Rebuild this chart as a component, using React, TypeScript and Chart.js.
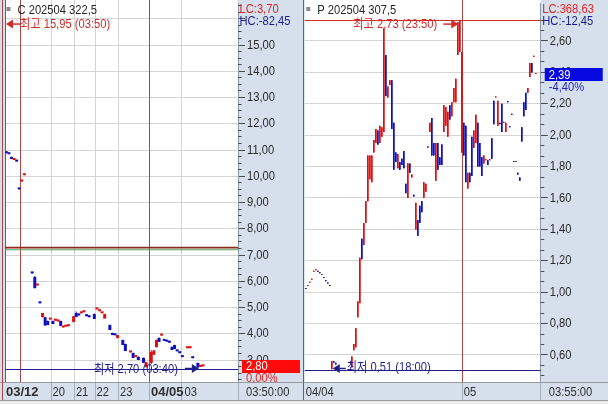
import React, { useEffect, useRef } from "react";
import { Chart, registerables } from "chart.js";

Chart.register(...registerables);

const BASE = "'Liberation Sans', 'Noto Sans CJK KR', sans-serif";
const SX = 0.86;
const AXIS_BG = "#d5e0ec";
const GRID = "#d4d4d4";
const UP = "#e01010";
const DOWN = "#1010c0";
const DAYLINE = "#a84848";
const HI_COLOR = "#d42a2a";
const LO_COLOR = "#1e1e8c";

// ---------------- Left panel (call) ----------------
const leftTitle = "C 202504 322,5";
const leftSlotCount = 90;
const leftSlots = [0, 1, 2, 3, 4, 5, 6, 7, 10, 11, 12, 13, 14, 15, 16, 17, 18, 19, 20, 21, 22, 23, 24, 26, 27, 28, 29, 30, 31, 32, 34, 35, 36, 37, 38, 40, 41, 42, 43, 45, 46, 48, 49, 50, 51, 53, 54, 56, 57, 58, 59, 60, 61, 62, 63, 64, 65, 66, 67, 68, 70, 71, 72, 74, 75, 76];
const leftOpen = [10.9, 10.86, 10.73, 10.62, 10.58, 9.52, 9.8, 10.04, 6.32, 6.16, 5.84, 5.18, 4.64, 4.63, 4.49, 4.54, 4.49, 4.5, 4.47, 4.49, 4.24, 4.27, 4.29, 4.45, 4.79, 4.72, 4.78, 4.82, 4.69, 4.65, 4.75, 4.93, 4.86, 4.78, 4.58, 4.33, 4.03, 3.96, 3.84, 3.76, 3.61, 3.29, 3.27, 3.11, 3.12, 3.08, 2.73, 2.89, 3.2, 3.49, 3.84, 3.93, 3.75, 3.72, 3.68, 3.5, 3.57, 3.35, 3.28, 3.13, 3.45, 3.45, 3.09, 2.89, 2.74, 2.76];
const leftHigh = [10.91, 10.86, 10.74, 10.64, 10.58, 9.53, 9.83, 10.06, 6.32, 6.2, 5.87, 5.18, 4.79, 4.65, 4.5, 4.57, 4.5, 4.53, 4.5, 4.5, 4.27, 4.29, 4.31, 4.67, 4.85, 4.72, 4.8, 4.84, 4.69, 4.65, 4.77, 4.95, 4.88, 4.8, 4.76, 4.35, 4.04, 3.96, 3.96, 3.78, 3.62, 3.31, 3.28, 3.13, 3.13, 3.1, 2.92, 3.38, 3.38, 3.78, 3.86, 3.95, 3.75, 3.72, 3.68, 3.51, 3.58, 3.35, 3.28, 3.13, 3.47, 3.47, 3.09, 2.9, 2.8, 2.8];
const leftLow = [10.88, 10.84, 10.66, 10.62, 10.56, 9.5, 9.8, 10.04, 6.3, 5.72, 5.84, 5.16, 4.62, 4.3, 4.33, 4.54, 4.37, 4.5, 4.47, 4.3, 4.24, 4.27, 4.29, 4.43, 4.64, 4.7, 4.78, 4.82, 4.67, 4.63, 4.56, 4.93, 4.86, 4.78, 4.58, 4.14, 3.95, 3.94, 3.82, 3.57, 3.34, 3.29, 3.08, 3.11, 3.0, 2.89, 2.71, 2.85, 3.19, 3.48, 3.69, 3.93, 3.73, 3.7, 3.66, 3.38, 3.42, 3.33, 3.26, 3.11, 3.45, 3.45, 3.07, 2.7, 2.73, 2.75];
const leftClose = [10.88, 10.84, 10.66, 10.64, 10.56, 9.5, 9.83, 10.06, 6.3, 5.74, 5.87, 5.16, 4.79, 4.32, 4.33, 4.57, 4.37, 4.53, 4.5, 4.3, 4.27, 4.29, 4.31, 4.67, 4.64, 4.7, 4.8, 4.84, 4.67, 4.63, 4.56, 4.95, 4.88, 4.8, 4.75, 4.14, 3.95, 3.94, 3.95, 3.57, 3.34, 3.31, 3.08, 3.13, 3.0, 2.89, 2.92, 3.3, 3.36, 3.76, 3.69, 3.95, 3.73, 3.7, 3.66, 3.38, 3.42, 3.33, 3.26, 3.11, 3.47, 3.47, 3.07, 2.72, 2.8, 2.8];
const leftYTicks = [3, 4, 5, 6, 7, 8, 9, 10, 11, 12, 13, 14, 15, 16];
const leftYUnlabeled = [16];
const leftXTickSlots = [0, 18, 27, 35, 44, 56, 68];
const leftXTickLabels = ["03/12", "20", "21", "22", "23", "04/05", "03"];
const leftXTickBold = [true, false, false, false, false, true, false];
const leftGridSlots = [18, 27, 35, 44, 68];
const leftDaySlots = [0, 6, 56];
const leftRefValues = [7.28, 7.2];
const leftRefColors = ["#8c2a1e", "#58a058"];
const leftMaxValue = 15.95;
const leftMaxText = "최고 15,95 (03:50)";
const leftMinValue = 2.7;
const leftMinText = "최저 2,70 (03:40)";
const leftMinSlot = 74;
const leftLC = "LC:3,70";
const leftHC = "HC:-82,45";
const leftLast = 2.8;
const leftLastText = "2,80";
const leftChangeText = "0,00%";
const leftTimeText = "03:50:00";

// ---------------- Right panel (put) ----------------
const rightTitle = "P 202504 307,5";
const rightSlotCount = 118;
const rightSlots = [0, 1, 2, 3, 4, 5, 6, 7, 8, 9, 10, 11, 12, 13, 14, 15, 23, 24, 25, 26, 27, 28, 29, 30, 31, 32, 33, 34, 35, 36, 37, 38, 39, 40, 41, 42, 43, 44, 45, 46, 47, 48, 49, 50, 51, 52, 53, 54, 55, 56, 57, 58, 59, 60, 61, 62, 63, 64, 65, 66, 67, 68, 69, 70, 71, 72, 73, 74, 75, 76, 77, 78, 79, 80, 81, 82, 83, 84, 85, 86, 87, 88, 89, 90, 91, 92, 93, 94, 95, 96, 97, 98, 99, 100, 101, 102, 103, 104, 105, 106, 107, 108, 109, 110, 111, 112, 113, 114, 115];
const rightLow = [1.02, 1.04, 1.06, 1.08, 1.13, 1.14, 1.13, 1.12, 1.11, 1.09, 1.07, 1.055, 1.04, 0.51, 0.55, 0.54, 0.52, 0.63, 0.65, 0.84, 0.93, 1.21, 1.3, 1.44, 1.58, 1.72, 1.7, 1.89, 1.95, 1.94, 1.95, 1.99, 2.02, 2.25, 2.24, 2.32, 2.04, 1.78, 1.83, 1.79, 1.78, 1.81, 1.79, 1.63, 1.6, 1.76, 1.73, 1.61, 1.4, 1.36, 1.44, 1.51, 1.6, 1.64, 1.92, 2.02, 1.87, 1.87, 1.71, 1.78, 1.81, 1.81, 2.02, 2.06, 1.99, 2.1, 2.12, 2.21, 2.21, 2.51, 2.53, 1.89, 1.87, 1.7, 1.66, 1.7, 1.74, 1.92, 1.95, 1.8, 1.8, 1.74, 1.82, 1.84, 1.81, 1.84, 1.85, 2.07, 2.24, 2.06, 2.07, 2.02, 2.08, 2.02, 2.21, 2.05, 2.13, 1.83, 1.83, 1.75, 1.71, 1.96, 2.12, 2.16, 2.27, 2.37, 2.4, 2.5, 2.39];
const rightHigh = [1.025, 1.045, 1.065, 1.085, 1.135, 1.145, 1.135, 1.125, 1.115, 1.095, 1.075, 1.06, 1.045, 0.56, 0.56, 0.55, 0.59, 0.67, 0.77, 0.94, 1.22, 1.34, 1.44, 1.58, 1.87, 1.87, 1.87, 1.97, 2.04, 2.03, 2.06, 2.05, 2.68, 2.51, 2.31, 2.35, 2.35, 2.08, 1.89, 1.88, 1.83, 1.85, 1.9, 1.69, 1.82, 1.82, 1.75, 1.62, 1.57, 1.46, 1.55, 1.58, 1.7, 1.69, 1.93, 2.08, 2.11, 1.95, 1.95, 1.95, 1.86, 1.94, 2.19, 2.18, 2.15, 2.19, 2.21, 2.3, 2.36, 2.72, 2.73, 2.53, 2.08, 2.06, 1.76, 1.76, 1.99, 2.03, 2.13, 2.08, 1.95, 1.86, 1.87, 1.845, 1.84, 1.845, 1.98, 2.22, 2.245, 2.22, 2.08, 2.2, 2.085, 2.08, 2.215, 2.055, 2.135, 1.835, 1.835, 1.76, 1.73, 2.05, 2.21, 2.27, 2.3, 2.46, 2.46, 2.505, 2.395];
const rightDir = "duuuuudduddddudduuuuuduuuuuuuduuuduuddduddddudududdduuuudduddduuuduuuuuuddudduuddduududduudduudddduddddduuduuuuuudddd";
const rightYTicks = [0.6, 0.8, 1.0, 1.2, 1.4, 1.6, 1.8, 2.0, 2.2, 2.4, 2.6];
const rightYUnlabeled: number[] = [];
const rightXTickSlots = [0, 79];
const rightXTickLabels = ["04/04", "05"];
const rightXTickBold = [false, false];
const rightGridSlots: number[] = [];
const rightDaySlots = [79];
const rightMaxValue = 2.73;
const rightMaxText = "최고 2,73 (23:50)";
const rightMaxSlot = 77;
const rightMinValue = 0.51;
const rightMinText = "최저 0,51 (18:00)";
const rightMinSlot = 13;
const rightLC = "LC:368,63";
const rightHC = "HC:-12,45";
const rightLast = 2.39;
const rightLastText = "2,39";
const rightChangeText = "-4,40%";
const rightTimeText = "03:55:00";

type Spec = {
  width: number;
  plotLeft: number;
  axisWidth: number;
  slotCount: number;
  slots: number[];
  open: number[];
  high: number[];
  low: number[];
  close: number[];
  wickWidth: number;
  bodyWidth: number;
  yMin: number;
  yMax: number;
  yTicks: number[];
  yUnlabeled: number[];
  minorPerMajor: number;
  gridSlots: number[];
  daySlots: number[];
  xTickSlots: number[];
  xTickLabels: string[];
  xTickBold: boolean[];
  title: string;
  lc: string;
  hc: string;
  last: number;
  lastText: string;
  changeText: string;
  boxColor: string;
  changeColor: string;
  timeText: string;
  refValues: number[];
  refColors: string[];
  borderXs: number[];
  hi: { value: number; text: string; slot: number | null; line: boolean };
  lo: { value: number; text: string; slot: number; dir: number };
};

const H = 404;
const PLOT_BOTTOM = 382;

const leftSpec: Spec = {
  width: 302,
  plotLeft: 5,
  axisWidth: 64,
  slotCount: leftSlotCount,
  slots: leftSlots,
  open: leftOpen,
  high: leftHigh,
  low: leftLow,
  close: leftClose,
  wickWidth: 1,
  bodyWidth: 3,
  yMin: 2.162,
  yMax: 16.6,
  yTicks: leftYTicks,
  yUnlabeled: leftYUnlabeled,
  minorPerMajor: 4,
  gridSlots: leftGridSlots,
  daySlots: leftDaySlots,
  xTickSlots: leftXTickSlots,
  xTickLabels: leftXTickLabels,
  xTickBold: leftXTickBold,
  title: leftTitle,
  lc: leftLC,
  hc: leftHC,
  last: leftLast,
  lastText: leftLastText,
  changeText: leftChangeText,
  boxColor: "#ff0a0a",
  changeColor: "#e82020",
  timeText: leftTimeText,
  refValues: leftRefValues,
  refColors: leftRefColors,
  borderXs: [2.5],
  hi: { value: leftMaxValue, text: leftMaxText, slot: null, line: false },
  lo: { value: leftMinValue, text: leftMinText, slot: leftMinSlot, dir: 1 },
};

const rightSpec: Spec = {
  width: 306,
  plotLeft: 2.75,
  axisWidth: 67.25,
  slotCount: rightSlotCount,
  slots: rightSlots,
  open: rightSlots.map((_, k) => (rightDir[k] === "u" ? rightLow[k] : rightHigh[k])),
  high: rightHigh,
  low: rightLow,
  close: rightSlots.map((_, k) => (rightDir[k] === "u" ? rightHigh[k] : rightLow[k])),
  wickWidth: 1.5,
  bodyWidth: 1.5,
  yMin: 0.428,
  yMax: 2.842,
  yTicks: rightYTicks,
  yUnlabeled: rightYUnlabeled,
  minorPerMajor: 3,
  gridSlots: rightGridSlots,
  daySlots: rightDaySlots,
  xTickSlots: rightXTickSlots,
  xTickLabels: rightXTickLabels,
  xTickBold: rightXTickBold,
  title: rightTitle,
  lc: rightLC,
  hc: rightHC,
  last: rightLast,
  lastText: rightLastText,
  changeText: rightChangeText,
  boxColor: "#0808e0",
  changeColor: "#1a1ad0",
  timeText: rightTimeText,
  refValues: [],
  refColors: [],
  borderXs: [1.5],
  hi: { value: rightMaxValue, text: rightMaxText, slot: rightMaxSlot, line: true },
  lo: { value: rightMinValue, text: rightMinText, slot: rightMinSlot, dir: -1 },
};

const fmt = (v: number) => v.toFixed(2).replace(".", ",");
const crisp = (x: number) => Math.round(x - 0.5) + 0.5;

function txt(ctx: CanvasRenderingContext2D, s: string, x: number, y: number, color: string, bold = false) {
  ctx.save();
  ctx.font = bold ? `bold 13px ${BASE}` : `13px ${BASE}`;
  ctx.fillStyle = color;
  ctx.textBaseline = "middle";
  ctx.textAlign = "left";
  ctx.translate(x, y);
  if (!bold) ctx.scale(SX, 1);
  ctx.fillText(s, 0, 0);
  ctx.restore();
}

function txtWidth(ctx: CanvasRenderingContext2D, s: string, bold = false) {
  ctx.save();
  ctx.font = bold ? `bold 13px ${BASE}` : `13px ${BASE}`;
  const w = ctx.measureText(s).width * (bold ? 1 : SX);
  ctx.restore();
  return w;
}

function drawArrow(ctx: CanvasRenderingContext2D, tipX: number, y: number, dir: number, len: number, color: string) {
  ctx.strokeStyle = color;
  ctx.fillStyle = color;
  ctx.lineWidth = 1.5;
  ctx.beginPath();
  ctx.moveTo(tipX - dir * len, y);
  ctx.lineTo(tipX - dir * 5, y);
  ctx.stroke();
  ctx.beginPath();
  ctx.moveTo(tipX, y);
  ctx.lineTo(tipX - dir * 7, y - 4.5);
  ctx.lineTo(tipX - dir * 7, y + 4.5);
  ctx.closePath();
  ctx.fill();
}

function Panel({ spec }: { spec: Spec }) {
  const ref = useRef<HTMLCanvasElement | null>(null);
  useEffect(() => {
    const canvas = ref.current;
    if (!canvas) return;
    const N = spec.slotCount;
    const W = spec.width;
    const labels = Array.from({ length: N }, (_, i) => String(i));
    const wick: ([number, number] | null)[] = new Array(N).fill(null);
    const body: ([number, number] | null)[] = new Array(N).fill(null);
    const col: string[] = new Array(N).fill(UP);
    spec.slots.forEach((s, k) => {
      const o = spec.open[k];
      const c = spec.close[k];
      wick[s] = [spec.low[k], spec.high[k]];
      body[s] = [Math.min(o, c), Math.max(o, c)];
      col[s] = c >= o ? UP : DOWN;
    });

    const step = spec.yTicks[1] - spec.yTicks[0];
    const minors: number[] = [];
    for (let m = spec.yTicks[0] - step; m <= spec.yTicks[spec.yTicks.length - 1] + step; m += step) {
      for (let j = 1; j < spec.minorPerMajor; j++) minors.push(m + (step * j) / spec.minorPerMajor);
    }
    const hidden = spec.yUnlabeled;

    const plugin = {
      id: "panel",
      beforeDraw(chart: any) {
        const ctx: CanvasRenderingContext2D = chart.ctx;
        const a = chart.chartArea;
        const xS = chart.scales.x;
        ctx.save();
        ctx.fillStyle = AXIS_BG;
        ctx.fillRect(0, 0, W, H);
        ctx.fillStyle = "#ffffff";
        ctx.fillRect(a.left, 0, a.right - a.left, a.bottom);
        ctx.fillStyle = "#ebebeb";
        ctx.fillRect(0, 400, W, 4);
        ctx.strokeStyle = "#9a9a9a";
        ctx.lineWidth = 1;
        ctx.beginPath();
        ctx.moveTo(0, 382.5);
        ctx.lineTo(W, 382.5);
        ctx.moveTo(0, 400.5);
        ctx.lineTo(W, 400.5);
        ctx.stroke();
        ctx.strokeStyle = "#a3aebb";
        ctx.beginPath();
        spec.xTickSlots.forEach((s) => {
          if (s === 0) return;
          const x = crisp(xS.getPixelForValue(s - 0.5));
          ctx.moveTo(x, 383);
          ctx.lineTo(x, 400);
        });
        const ax = crisp(a.right);
        ctx.moveTo(ax, 383);
        ctx.lineTo(ax, 400);
        ctx.stroke();
        ctx.restore();
      },
      beforeDatasetsDraw(chart: any) {
        const ctx: CanvasRenderingContext2D = chart.ctx;
        const a = chart.chartArea;
        const xS = chart.scales.x;
        const yS = chart.scales.y;
        ctx.save();
        ctx.lineWidth = 1;
        ctx.strokeStyle = GRID;
        ctx.beginPath();
        spec.gridSlots.forEach((s) => {
          const x = crisp(xS.getPixelForValue(s - 0.5));
          ctx.moveTo(x, 0);
          ctx.lineTo(x, a.bottom);
        });
        ctx.stroke();
        ctx.strokeStyle = DAYLINE;
        ctx.beginPath();
        spec.daySlots.forEach((s) => {
          const x = crisp(xS.getPixelForValue(s - 0.5));
          ctx.moveTo(x, 0);
          ctx.lineTo(x, a.bottom);
        });
        spec.borderXs.forEach((x) => {
          ctx.moveTo(x, 0);
          ctx.lineTo(x, 400);
        });
        ctx.stroke();
        spec.refValues.forEach((v, i) => {
          const y = yS.getPixelForValue(v);
          ctx.strokeStyle = spec.refColors[i];
          ctx.lineWidth = i === 0 ? 1.6 : 1;
          ctx.beginPath();
          ctx.moveTo(a.left, y);
          ctx.lineTo(a.right, y);
          ctx.stroke();
        });
        ctx.lineWidth = 1;
        if (spec.hi.line) {
          const y = crisp(yS.getPixelForValue(spec.hi.value));
          ctx.strokeStyle = HI_COLOR;
          ctx.beginPath();
          ctx.moveTo(a.left, y);
          ctx.lineTo(a.right, y);
          ctx.stroke();
        }
        const ly = crisp(yS.getPixelForValue(spec.lo.value) + 1.5);
        ctx.strokeStyle = LO_COLOR;
        ctx.beginPath();
        ctx.moveTo(a.left, ly);
        ctx.lineTo(a.right, ly);
        ctx.stroke();
        ctx.restore();
      },
      afterDraw(chart: any) {
        const ctx: CanvasRenderingContext2D = chart.ctx;
        const a = chart.chartArea;
        const xS = chart.scales.x;
        const yS = chart.scales.y;
        ctx.save();
        ctx.strokeStyle = "#4a4a4a";
        ctx.lineWidth = 1;
        ctx.beginPath();
        minors.forEach((v) => {
          const y = crisp(yS.getPixelForValue(v));
          if (y < a.top || y > a.bottom) return;
          ctx.moveTo(a.right, y);
          ctx.lineTo(a.right + 3.5, y);
        });
        ctx.stroke();

        yS.ticks.forEach((t: any) => {
          if (hidden.some((h) => Math.abs(h - t.value) < 1e-6)) return;
          txt(ctx, fmt(t.value), a.right + 9, yS.getPixelForValue(t.value), "#2a2a2a");
        });

        ctx.fillStyle = "#8a8a8a";
        ctx.fillRect(a.left + 1.5, 7, 4, 4);
        txt(ctx, spec.title, a.left + 12.5, 10, "#262626");
        txt(ctx, spec.lc, a.right + 1.5, 9, "#e02424");
        txt(ctx, spec.hc, a.right + 1.5, 21.5, "#1c1c8c");

        const hy = yS.getPixelForValue(spec.hi.value);
        if (spec.hi.slot === null) {
          const tip = a.left + 1;
          drawArrow(ctx, tip, hy + 4, -1, 14, HI_COLOR);
          txt(ctx, spec.hi.text, tip + 14, hy + 4, HI_COLOR);
        } else {
          const tip = xS.getPixelForValue(spec.hi.slot) - 1.5;
          drawArrow(ctx, tip, hy + 3.5, 1, 15, HI_COLOR);
          const w = txtWidth(ctx, spec.hi.text);
          txt(ctx, spec.hi.text, tip - 21 - w, hy + 3.5, HI_COLOR);
        }

        const ly = crisp(yS.getPixelForValue(spec.lo.value) + 1.5);
        if (spec.lo.dir > 0) {
          const tip = xS.getPixelForValue(spec.lo.slot) + 1;
          drawArrow(ctx, tip, ly - 1, 1, 14, LO_COLOR);
          const w = txtWidth(ctx, spec.lo.text);
          txt(ctx, spec.lo.text, tip - 21 - w, ly, LO_COLOR);
        } else {
          const tip = xS.getPixelForValue(spec.lo.slot) + 1;
          drawArrow(ctx, tip, ly - 2, -1, 13, LO_COLOR);
          txt(ctx, spec.lo.text, tip + 14, ly - 3, LO_COLOR);
        }

        const py = yS.getPixelForValue(spec.last) + 1;
        ctx.fillStyle = spec.boxColor;
        ctx.fillRect(a.right + 4, Math.round(py - 6.5), 58, 13);
        txt(ctx, spec.lastText, a.right + 8, py, "#ffffff");
        txt(ctx, spec.changeText, a.right + 8, py + 12.5, spec.changeColor);

        ctx.fillStyle = AXIS_BG;
        ctx.fillRect(a.right + 1, 383, W - a.right - 1, 17);

        let prevEnd = -100;
        spec.xTickSlots.forEach((s, i) => {
          const x0 = xS.getPixelForValue(s - 0.5);
          const bold = spec.xTickBold[i];
          const w = txtWidth(ctx, spec.xTickLabels[i], bold);
          const x = Math.max(x0 + 1, prevEnd + 1);
          txt(ctx, spec.xTickLabels[i], x, 392, "#2e2e2e", bold);
          prevEnd = x + w;
        });
        txt(ctx, spec.timeText, a.right + 8, 392, "#2e2e2e");
        ctx.restore();
      },
    };

    const chart = new Chart(canvas, {
      type: "bar",
      data: {
        labels,
        datasets: [
          {
            data: wick as any,
            backgroundColor: (c: any) => col[c.dataIndex] || UP,
            barThickness: spec.wickWidth,
            grouped: false,
            minBarLength: 1,
            borderWidth: 0,
            inflateAmount: 0,
          } as any,
          {
            data: body as any,
            backgroundColor: (c: any) => col[c.dataIndex] || UP,
            barThickness: spec.bodyWidth,
            grouped: false,
            minBarLength: spec.bodyWidth > 2 ? 2 : 1,
            borderWidth: 0,
            inflateAmount: 0,
          } as any,
        ],
      },
      options: {
        animation: false,
        responsive: false,
        maintainAspectRatio: false,
        devicePixelRatio: 1,
        events: [],
        layout: { padding: { left: spec.plotLeft, top: 3, right: 0, bottom: H - PLOT_BOTTOM } },
        plugins: { legend: { display: false }, tooltip: { enabled: false } },
        scales: {
          x: { type: "category", display: false, offset: true },
          y: {
            type: "linear",
            position: "right",
            min: spec.yMin,
            max: spec.yMax,
            afterBuildTicks: (s: any) => {
              s.ticks = spec.yTicks.map((v) => ({ value: v }));
            },
            afterFit: (s: any) => {
              s.width = spec.axisWidth;
              s.paddingTop = 0;
              s.paddingBottom = 0;
            },
            grid: { color: GRID, lineWidth: 1, drawTicks: true, tickLength: 7, tickColor: "#4a4a4a", tickWidth: 1 },
            border: { display: true, color: "#8d99a6", width: 1 },
            ticks: { display: false, autoSkip: false },
          } as any,
        },
      },
      plugins: [plugin as any],
    });
    return () => chart.destroy();
  }, [spec]);
  return <canvas ref={ref} width={spec.width} height={H} style={{ display: "block", width: spec.width, height: H, flex: "none" }} />;
}

export default function App() {
  return (
    <div style={{ position: "fixed", left: 0, top: 0, width: 608, height: H, display: "flex", background: AXIS_BG }}>
      <Panel spec={leftSpec} />
      <Panel spec={rightSpec} />
    </div>
  );
}
